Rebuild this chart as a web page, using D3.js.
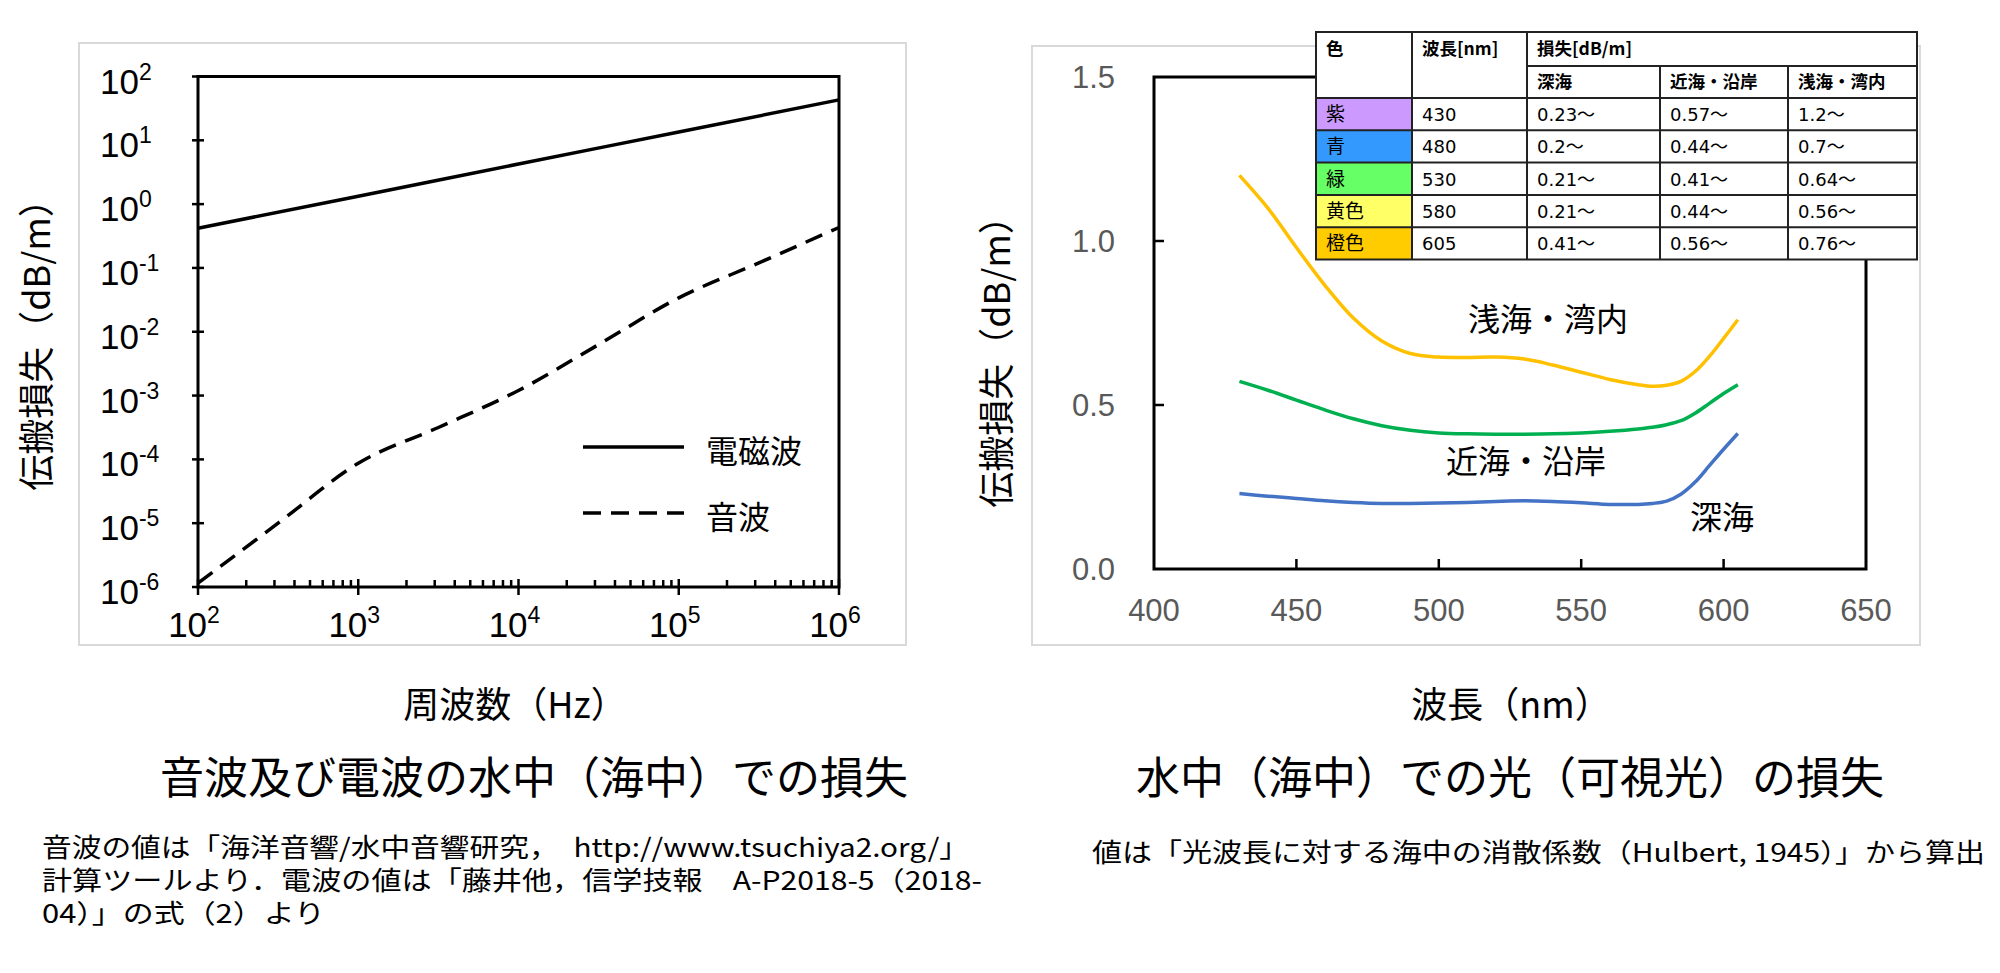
<!DOCTYPE html>
<html><head><meta charset="utf-8">
<script src="https://cdn.jsdelivr.net/npm/d3@7"></script>
<style>body{margin:0;background:#fff;overflow:hidden}</style>
</head><body><svg id="c" width="2000" height="973"></svg>
<script>
// ---------- data: left chart ----------
const emFreq = [1e2, 1e3, 1e4, 1e5, 1e6];
const emLoss = [0.42, 1.33, 4.25, 13.5, 43];
const soundFreq = [100, 316, 1000, 3162, 10000, 31623, 100000, 316228, 1000000];
const soundLoss = [1.15e-6, 1.0e-5, 8.7e-5, 3.16e-4, 1.2e-3, 6.3e-3, 3.4e-2, 0.12, 0.43];
const yExponents = [-6, -5, -4, -3, -2, -1, 0, 1, 2];
const xExponents = [2, 3, 4, 5, 6];
const legendLabels = ["電磁波", "音波"];

// ---------- data: right chart ----------
const wavelengths = [430, 440, 450, 460, 470, 480, 490, 500, 510, 520, 530, 540, 550, 560, 570, 575, 580, 585, 590, 595, 600, 605];
const shallowLoss = [1.20, 1.10, 0.98, 0.865, 0.765, 0.695, 0.657, 0.646, 0.645, 0.646, 0.64, 0.622, 0.60, 0.578, 0.562, 0.557, 0.56, 0.572, 0.602, 0.648, 0.703, 0.76];
const coastalLoss = [0.572, 0.545, 0.515, 0.485, 0.458, 0.437, 0.423, 0.415, 0.412, 0.411, 0.411, 0.412, 0.415, 0.42, 0.427, 0.432, 0.44, 0.452, 0.475, 0.505, 0.535, 0.562];
const deepLoss = [0.23, 0.222, 0.215, 0.208, 0.203, 0.20, 0.20, 0.201, 0.203, 0.206, 0.208, 0.206, 0.202, 0.197, 0.197, 0.200, 0.207, 0.228, 0.265, 0.315, 0.365, 0.413];
const rightXTicks = [400, 450, 500, 550, 600, 650];
const rightYTicks = [0.0, 0.5, 1.0, 1.5];
const curveLabels = ["浅海・湾内", "近海・沿岸", "深海"];

// ---------- data: table ----------
const tableColors = ["紫", "青", "緑", "黄色", "橙色"];
const tableWave = ["430", "480", "530", "580", "605"];
const tableDeep = ["0.23～", "0.2～", "0.21～", "0.21～", "0.41～"];
const tableCoastal = ["0.57～", "0.44～", "0.41～", "0.44～", "0.56～"];
const tableShallow = ["1.2～", "0.7～", "0.64～", "0.56～", "0.76～"];
const tableHeader1 = ["色", "波長[nm]", "損失[dB/m]"];
const tableHeader2 = ["深海", "近海・沿岸", "浅海・湾内"];

// ---------- styles ----------
const swatchFill = ["#CC99FF", "#3399FF", "#66FF66", "#FFFF66", "#FFCC00"];
const lineColors = ["#FFC000", "#00B050", "#4472C4"];
const CJK = "'Noto Sans CJK JP', sans-serif";
const LAT = "'Liberation Sans', Arial, sans-serif";

const svg = d3.select("#c");
svg.append("rect").attr("width", 2000).attr("height", 973).attr("fill", "#fff");

// ================= LEFT CHART =================
svg.append("rect").attr("x", 79).attr("y", 43).attr("width", 827).attr("height", 602)
  .attr("fill", "none").attr("stroke", "#D9D9D9").attr("stroke-width", 2);

const xL = d3.scaleLog().domain([1e2, 1e6]).range([198, 839]);
const yL = d3.scaleLog().domain([1e-6, 1e2]).range([587, 76.5]);
const gL = svg.append("g");

gL.append("rect").attr("x", xL(1e2)).attr("y", yL(1e2))
  .attr("width", xL(1e6) - xL(1e2)).attr("height", yL(1e-6) - yL(1e2))
  .attr("fill", "none").attr("stroke", "#000").attr("stroke-width", 3);

xL.ticks().forEach(v => {
  const major = Math.abs(Math.log10(v) - Math.round(Math.log10(v))) < 1e-9;
  gL.append("line").attr("x1", xL(v)).attr("x2", xL(v))
    .attr("y1", yL(1e-6) - (major ? 8 : 7)).attr("y2", yL(1e-6) + (major ? 8 : 0))
    .attr("stroke", "#000").attr("stroke-width", 2.5);
});
yExponents.forEach(e => {
  gL.append("line").attr("x1", xL(1e2) - 6).attr("x2", xL(1e2) + 6)
    .attr("y1", yL(Math.pow(10, e))).attr("y2", yL(Math.pow(10, e)))
    .attr("stroke", "#000").attr("stroke-width", 2.5);
  const t = gL.append("text").attr("x", 100).attr("y", yL(Math.pow(10, e)) + 17)
    .attr("font-family", LAT).attr("font-size", 35).attr("fill", "#000");
  t.append("tspan").text("10");
  t.append("tspan").attr("dy", -14).attr("font-size", 23).text(e < 0 ? "-" + (-e) : String(e));
});
xExponents.forEach(e => {
  const t = gL.append("text").attr("x", xL(Math.pow(10, e)) - 4).attr("y", 637)
    .attr("text-anchor", "middle")
    .attr("font-family", LAT).attr("font-size", 35).attr("fill", "#000");
  t.append("tspan").text("10");
  t.append("tspan").attr("dy", -14).attr("font-size", 23).text(String(e));
});

const lineL = d3.line().x(d => xL(d[0])).y(d => yL(d[1])).curve(d3.curveMonotoneX);
gL.append("path").datum(emFreq.map((f, i) => [f, emLoss[i]])).attr("d", lineL)
  .attr("fill", "none").attr("stroke", "#000").attr("stroke-width", 3.5);
gL.append("path").datum(soundFreq.map((f, i) => [f, soundLoss[i]])).attr("d", lineL)
  .attr("fill", "none").attr("stroke", "#000").attr("stroke-width", 3.5)
  .attr("stroke-dasharray", "18,10");

[[447, null], [513, "18,10"]].forEach((s, i) => {
  gL.append("line").attr("x1", 583).attr("x2", 684).attr("y1", s[0]).attr("y2", s[0])
    .attr("stroke", "#000").attr("stroke-width", 3.5).attr("stroke-dasharray", s[1]);
  gL.append("text").attr("x", 706).attr("y", s[0] + 16).attr("font-family", CJK)
    .attr("font-size", 32).text(legendLabels[i]);
});

svg.append("text").attr("transform", "translate(50,336) rotate(-90)").attr("text-anchor", "middle")
  .attr("font-family", CJK).attr("font-size", 36).text("伝搬損失（dB/m）");
svg.append("text").attr("x", 515).attr("y", 718).attr("text-anchor", "middle")
  .attr("font-family", CJK).attr("font-size", 36).text("周波数（Hz）");
svg.append("text").attr("x", 534).attr("y", 794).attr("text-anchor", "middle")
  .attr("font-family", CJK).attr("font-size", 44).text("音波及び電波の水中（海中）での損失");

const notesL = ["音波の値は「海洋音響/水中音響研究，　http://www.tsuchiya2.org/」",
  "計算ツールより．電波の値は「藤井他，信学技報　A-P2018-5（2018-",
  "04）」の式（2）より"];
const notesLW = [927, 940, 283];
notesL.forEach((s, i) => {
  svg.append("text").attr("x", 42).attr("y", 857 + i * 33).attr("font-family", CJK)
    .attr("font-size", 26).attr("textLength", notesLW[i]).attr("lengthAdjust", "spacingAndGlyphs").text(s);
});

// ================= RIGHT CHART =================
svg.append("rect").attr("x", 1032).attr("y", 46).attr("width", 888).attr("height", 599)
  .attr("fill", "none").attr("stroke", "#D9D9D9").attr("stroke-width", 2);

const xR = d3.scaleLinear().domain([400, 650]).range([1154, 1866]);
const yR = d3.scaleLinear().domain([0, 1.5]).range([569, 77]);
const gR = svg.append("g");
gR.append("rect").attr("x", xR(400)).attr("y", yR(1.5))
  .attr("width", xR(650) - xR(400)).attr("height", yR(0) - yR(1.5))
  .attr("fill", "none").attr("stroke", "#000").attr("stroke-width", 3);
rightXTicks.forEach(v => {
  if (v > 400 && v < 650)
    gR.append("line").attr("x1", xR(v)).attr("x2", xR(v)).attr("y1", yR(0)).attr("y2", yR(0) - 10)
      .attr("stroke", "#000").attr("stroke-width", 2.5);
  gR.append("text").attr("x", xR(v)).attr("y", 621).attr("text-anchor", "middle")
    .attr("font-family", LAT).attr("font-size", 31).attr("fill", "#595959").text(v);
});
rightYTicks.forEach(v => {
  if (v > 0 && v < 1.5)
    gR.append("line").attr("x1", xR(400)).attr("x2", xR(400) + 10).attr("y1", yR(v)).attr("y2", yR(v))
      .attr("stroke", "#000").attr("stroke-width", 2.5);
  gR.append("text").attr("x", 1115).attr("y", yR(v) + 11).attr("text-anchor", "end")
    .attr("font-family", LAT).attr("font-size", 31).attr("fill", "#595959").text(v.toFixed(1));
});
const lineR = d3.line().x(d => xR(d[0])).y(d => yR(d[1])).curve(d3.curveCatmullRom.alpha(0.5));
[shallowLoss, coastalLoss, deepLoss].forEach((arr, i) => {
  gR.append("path").datum(wavelengths.map((w, j) => [w, arr[j]])).attr("d", lineR)
    .attr("fill", "none").attr("stroke", lineColors[i]).attr("stroke-width", 3.5);
});
[[1548, 331], [1526, 473], [1722, 529]].forEach((p, i) => {
  gR.append("text").attr("x", p[0]).attr("y", p[1]).attr("text-anchor", "middle")
    .attr("font-family", CJK).attr("font-size", 32).text(curveLabels[i]);
});

svg.append("text").attr("transform", "translate(1010,353) rotate(-90)").attr("text-anchor", "middle")
  .attr("font-family", CJK).attr("font-size", 36).text("伝搬損失（dB/m）");
svg.append("text").attr("x", 1511).attr("y", 718).attr("text-anchor", "middle")
  .attr("font-family", CJK).attr("font-size", 36).text("波長（nm）");
svg.append("text").attr("x", 1510).attr("y", 794).attr("text-anchor", "middle")
  .attr("font-family", CJK).attr("font-size", 44).text("水中（海中）での光（可視光）の損失");
svg.append("text").attr("x", 1092).attr("y", 862).attr("font-family", CJK)
  .attr("font-size", 26).attr("textLength", 893).attr("lengthAdjust", "spacingAndGlyphs")
  .text("値は「光波長に対する海中の消散係数（Hulbert, 1945）」から算出");

// ================= TABLE =================
const colX = [1316, 1412, 1527, 1660, 1788, 1917];
const rowY = [32, 66, 98, 130.3, 162.6, 194.9, 227.2, 259.5];
const gT = svg.append("g");
gT.append("rect").attr("x", colX[0]).attr("y", rowY[0]).attr("width", colX[5] - colX[0])
  .attr("height", rowY[7] - rowY[0]).attr("fill", "#fff");
tableColors.forEach((c, i) => {
  gT.append("rect").attr("x", colX[0]).attr("y", rowY[i + 2]).attr("width", colX[1] - colX[0])
    .attr("height", rowY[i + 3] - rowY[i + 2]).attr("fill", swatchFill[i]);
});
const TF = "'DejaVu Sans', 'Noto Sans CJK JP', sans-serif";
[[colX[0], tableHeader1[0]], [colX[1], tableHeader1[1]], [colX[2], tableHeader1[2]]].forEach(h => {
  gT.append("text").attr("x", h[0] + 10).attr("y", (rowY[0] + rowY[1]) / 2 + 6)
    .attr("font-family", CJK).attr("font-weight", "bold").attr("font-size", 17.5).text(h[1]);
});
tableHeader2.forEach((h, i) => {
  gT.append("text").attr("x", colX[i + 2] + 10).attr("y", (rowY[1] + rowY[2]) / 2 + 6)
    .attr("font-family", CJK).attr("font-weight", "bold").attr("font-size", 17.5).text(h);
});
const cols = [tableColors, tableWave, tableDeep, tableCoastal, tableShallow];
cols.forEach((col, ci) => {
  col.forEach((v, ri) => {
    gT.append("text").attr("x", colX[ci] + 10).attr("y", (rowY[ri + 2] + rowY[ri + 3]) / 2 + 7)
      .attr("font-family", ci === 0 ? CJK : TF).attr("font-size", ci === 0 ? 19 : 18).text(v);
  });
});
const ls = (x1, y1, x2, y2) => gT.append("line").attr("x1", x1).attr("y1", y1).attr("x2", x2).attr("y2", y2)
  .attr("stroke", "#222").attr("stroke-width", 2);
ls(colX[2], rowY[1], colX[5], rowY[1]);
for (let r = 2; r < 7; r++) ls(colX[0], rowY[r], colX[5], rowY[r]);
ls(colX[1], rowY[0], colX[1], rowY[7]);
ls(colX[2], rowY[0], colX[2], rowY[7]);
ls(colX[3], rowY[1], colX[3], rowY[7]);
ls(colX[4], rowY[1], colX[4], rowY[7]);
gT.append("rect").attr("x", colX[0]).attr("y", rowY[0]).attr("width", colX[5] - colX[0])
  .attr("height", rowY[7] - rowY[0]).attr("fill", "none").attr("stroke", "#222").attr("stroke-width", 2);
</script></body></html>
